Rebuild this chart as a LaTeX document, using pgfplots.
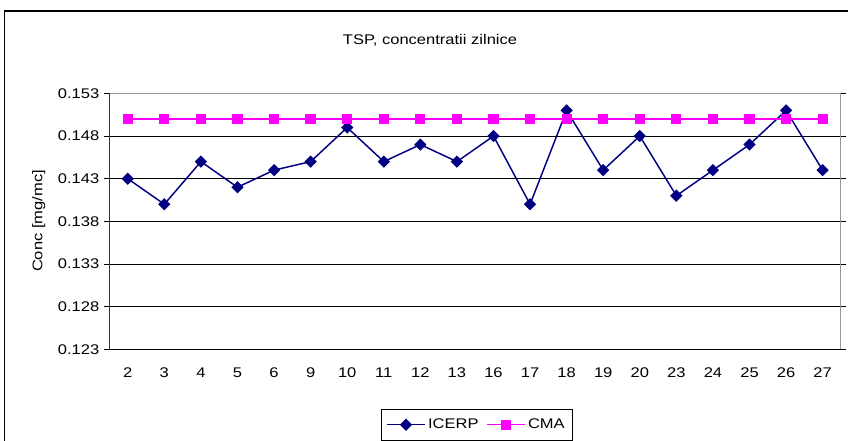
\documentclass[border=0pt]{standalone}
\usepackage{fontspec}
\setmainfont{Liberation Sans}[FakeStretch=1.18]
\usepackage{pgfplots}
\pgfplotsset{compat=1.18}
\definecolor{icerp}{HTML}{000080}
\definecolor{cma}{HTML}{FF00FF}

\begin{document}
\fontsize{10.5}{12.6}\selectfont
\begin{tikzpicture}
\useasboundingbox (0,0) rectangle (636pt,330.75pt);
% outer chart frame (right and bottom edges fall outside the picture)
\draw[black,line width=0.8pt] (3.2pt,-20pt) -- (3.2pt,322.5pt) -- (660pt,322.5pt);
\node at (322.5pt,300.75pt) {TSP, concentratii zilnice};
\node[rotate=90] at (29pt,165pt) {Conc [mg/mc]};
\begin{axis}[at={(82.1pt,68.8pt)},anchor=south west,scale only axis,
 width=548.6pt,height=191.9pt,
 xmin=-0.5,xmax=19.5,ymin=0.123,ymax=0.153,
 xtick={0,...,19},
 xticklabels={2,3,4,5,6,9,10,11,12,13,16,17,18,19,20,23,24,25,26,27},
 x tick style={draw=none},
 extra x ticks={-0.5,0.5,...,19.5},extra x tick labels={},
 extra x tick style={grid=none,tick style={draw=black,line width=0.6pt},major tick length=4pt},
 ytick={0.123,0.128,...,0.1535},
 yticklabel style={/pgf/number format/fixed,/pgf/number format/precision=3,
   /pgf/number format/fixed zerofill,/pgf/number format/assume math mode=true},
 scaled y ticks=false,
 tick align=outside,major tick length=4pt,
 y tick style={black,line width=0.6pt},
 xticklabel style={yshift=-6pt},
 ymajorgrids,grid style={black,line width=0.6pt},
 axis line style={draw=gray!80,line width=0.8pt},
 legend style={at={(rel axis cs:0.371,-0.2334)},anchor=north west,
   draw=black,line width=0.6pt,legend columns=2,
   /tikz/every even column/.append style={column sep=4pt},
   inner xsep=4pt,inner ysep=5pt},
 legend image code/.code={\draw[mark repeat=2,mark phase=2,#1]
   plot coordinates {(0pt,0pt) (14pt,0pt) (28pt,0pt)};},
]
\addplot[icerp,line width=1.1pt,mark=square*,mark size=2.7pt,mark options={rotate=45}]
 coordinates {(0,0.143) (1,0.140) (2,0.145) (3,0.142) (4,0.144) (5,0.145) (6,0.149)
 (7,0.145) (8,0.147) (9,0.145) (10,0.148) (11,0.140) (12,0.151) (13,0.144) (14,0.148)
 (15,0.141) (16,0.144) (17,0.147) (18,0.151) (19,0.144)};
\addplot[cma,line width=1.1pt,mark=square*,mark size=3.3pt]
 coordinates {(0,0.150) (1,0.150) (2,0.150) (3,0.150) (4,0.150) (5,0.150) (6,0.150)
 (7,0.150) (8,0.150) (9,0.150) (10,0.150) (11,0.150) (12,0.150) (13,0.150) (14,0.150)
 (15,0.150) (16,0.150) (17,0.150) (18,0.150) (19,0.150)};
\legend{ICERP,CMA}
\draw[black,line width=0.8pt] (rel axis cs:0,1) -- (rel axis cs:0,0) -- (rel axis cs:1,0);
\end{axis}
\end{tikzpicture}
\end{document}
